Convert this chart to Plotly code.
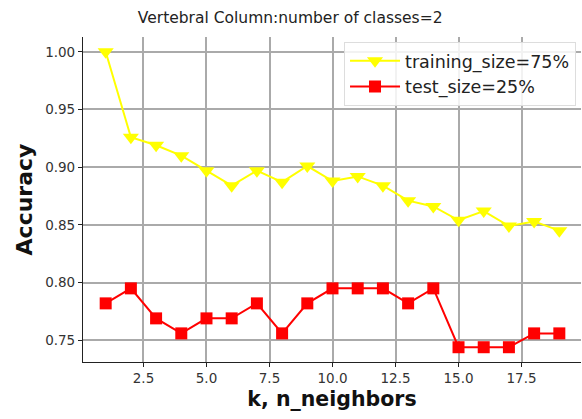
import plotly.graph_objects as go

k = list(range(1, 20))
train_acc = [1.0, 0.926, 0.919, 0.910, 0.897, 0.884, 0.897, 0.887, 0.901, 0.888,
             0.892, 0.884, 0.871, 0.866, 0.854, 0.862, 0.849, 0.853, 0.845]
test_acc = [0.782, 0.795, 0.769, 0.756, 0.769, 0.769, 0.782, 0.756, 0.782, 0.795,
            0.795, 0.795, 0.782, 0.795, 0.744, 0.744, 0.744, 0.756, 0.756]

fig = go.Figure()
fig.add_trace(go.Scatter(x=k, y=train_acc, mode="lines+markers", name="training_size=75%",
                         line=dict(color="#ffff00", width=2),
                         marker=dict(symbol="triangle-down", size=14, color="#ffff00")))
fig.add_trace(go.Scatter(x=k, y=test_acc, mode="lines+markers", name="test_size=25%",
                         line=dict(color="#ff0000", width=2),
                         marker=dict(symbol="square", size=12, color="#ff0000")))

font = "DejaVu Sans"
fig.update_layout(
    width=582, height=419,
    margin=dict(l=83, r=1, t=37, b=57),
    paper_bgcolor="white", plot_bgcolor="white",
    font=dict(family=font, color="#222222"),
    title=dict(text="Vertebral Column:number of classes=2", xref="paper", x=0.416, xanchor="center",
               y=0.957, yanchor="middle", font=dict(size=15.5, color="#222222")),
    legend=dict(x=0.99, xanchor="right", y=0.985, yanchor="top",
                bgcolor="rgba(255,255,255,0.85)", bordercolor="#dddddd", borderwidth=1,
                font=dict(size=17.5, color="#222222"), itemwidth=50, tracegroupgap=0),
    showlegend=True,
)
fig.update_xaxes(range=[0.1, 19.86], tickmode="array",
                 tickvals=[2.5, 5.0, 7.5, 10.0, 12.5, 15.0, 17.5],
                 ticktext=["2.5", "5.0", "7.5", "10.0", "12.5", "15.0", "17.5"],
                 showgrid=True, gridcolor="#aaaaaa", gridwidth=1.8,
                 showline=True, linecolor="#222222", linewidth=1.2,
                 ticks="outside", ticklen=4, tickcolor="#222222",
                 tickfont=dict(size=13.5, color="#333333"), zeroline=False,
                 title=dict(text="<b>k, n_neighbors</b>", font=dict(size=20.5, color="#111111"), standoff=6))
fig.update_yaxes(range=[0.7312, 1.0128], tickmode="array",
                 tickvals=[0.75, 0.80, 0.85, 0.90, 0.95, 1.00],
                 ticktext=["0.75", "0.80", "0.85", "0.90", "0.95", "1.00"],
                 showgrid=True, gridcolor="#aaaaaa", gridwidth=1.8,
                 showline=True, linecolor="#222222", linewidth=1.2,
                 ticks="outside", ticklen=4, tickcolor="#222222",
                 tickfont=dict(size=13.5, color="#333333"), zeroline=False,
                 title=dict(text="<b>Accuracy</b>", font=dict(size=22, color="#111111"), standoff=6))

fig.write_html("out.html")
